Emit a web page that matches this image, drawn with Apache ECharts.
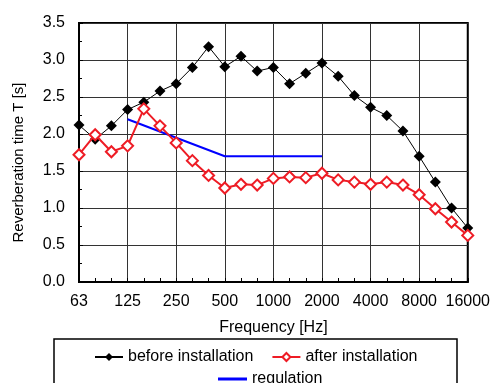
<!DOCTYPE html>
<html>
<head>
<meta charset="utf-8">
<script src="https://cdn.jsdelivr.net/npm/echarts@6/dist/echarts.min.js"></script>
<style>
  html, body { margin: 0; padding: 0; background: #fff; }
  #chart { width: 493px; height: 383px; }
</style>
</head>
<body>
<div id="chart"></div>
<script>
// 1/3 octave bands
const freqs = ["63", "80", "100", "125", "160", "200", "250", "315", "400", "500", "630", "800",
  "1000", "1250", "1600", "2000", "2500", "3150", "4000", "5000", "6300", "8000", "10000", "12500", "16000"];

const beforeVals = [2.12, 1.93, 2.11, 2.33, 2.43, 2.58, 2.68, 2.90, 3.18, 2.91, 3.05, 2.85,
  2.90, 2.68, 2.82, 2.96, 2.78, 2.52, 2.36, 2.25, 2.04, 1.70, 1.35, 1.00, 0.73];

const afterVals = [1.72, 1.99, 1.76, 1.84, 2.34, 2.11, 1.88, 1.64, 1.44, 1.27, 1.32, 1.31,
  1.40, 1.42, 1.41, 1.47, 1.38, 1.35, 1.32, 1.35, 1.31, 1.18, 0.99, 0.81, 0.63];

// regulation limit: only corner points, joined by the line
const regulationVals = [null, null, null, 2.2, null, null, null, null, null, 1.7, null, null,
  null, null, null, 1.7, null, null, null, null, null, null, null, null, null];

const font = "'Liberation Sans', Arial, sans-serif";

const chart = echarts.init(document.getElementById("chart"));
chart.setOption({
  animation: false,
  textStyle: { fontFamily: font },
  grid: {
    left: 79,
    right: 22,
    top: 23,
    bottom: 101,
    show: true,
    borderColor: "#000",
    borderWidth: 2,
  },
  graphic: [
    {
      type: "rect",
      z: 0,
      shape: { x: 54, y: 339, width: 403, height: 60 },
      style: { fill: "#fff", stroke: "#000", lineWidth: 1.5 },
    },
  ],
  legend: [
    {
      left: 89,
      top: 344,
      itemWidth: 28,
      itemHeight: 10,
      itemGap: 18,
      textStyle: { fontSize: 16, color: "#000", fontFamily: font },
      data: ["before installation", "after installation"],
    },
    {
      left: 213,
      top: 366,
      icon: "rect",
      itemWidth: 29,
      itemHeight: 3,
      textStyle: { fontSize: 16, color: "#000", fontFamily: font },
      data: ["regulation"],
    },
  ],
  xAxis: {
    type: "category",
    boundaryGap: false,
    data: freqs,
    name: "Frequency [Hz]",
    nameLocation: "middle",
    nameGap: 38,
    nameTextStyle: { fontSize: 16, color: "#000", fontFamily: font },
    axisLine: { lineStyle: { color: "#000", width: 2 } },
    axisTick: {
      show: true,
      inside: true,
      interval: 0,
      length: 4,
      lineStyle: { color: "#000" },
    },
    axisLabel: {
      interval: 2,
      margin: 12,
      fontSize: 16,
      color: "#000",
      fontFamily: font,
    },
    splitLine: {
      show: true,
      interval: 2,
      lineStyle: { color: "#333", width: 1 },
    },
  },
  yAxis: {
    type: "value",
    min: 0,
    max: 3.5,
    interval: 0.5,
    name: "Reverberation time T [s]",
    nameLocation: "middle",
    nameGap: 53,
    nameTextStyle: { fontSize: 15, color: "#000", fontFamily: font, padding: [0, 20, 0, 0] },
    axisLine: { show: true, lineStyle: { color: "#000", width: 2 } },
    axisTick: { show: true, inside: true, length: 4, lineStyle: { color: "#000" } },
    minorTick: { show: true, splitNumber: 2, length: 3, lineStyle: { color: "#000" } },
    axisLabel: {
      margin: 14,
      fontSize: 16,
      color: "#000",
      fontFamily: font,
      formatter: (val) => val.toFixed(1),
    },
    splitLine: { show: true, lineStyle: { color: "#333", width: 1 } },
  },
  series: [
    {
      name: "before installation",
      type: "line",
      data: beforeVals,
      symbol: "diamond",
      symbolSize: 11,
      showAllSymbol: true,
      color: "#000",
      lineStyle: { color: "#000", width: 1 },
      itemStyle: { color: "#000" },
      z: 3,
    },
    {
      name: "after installation",
      type: "line",
      data: afterVals,
      symbol: "emptyDiamond",
      symbolSize: 11,
      showAllSymbol: true,
      color: "#ee1c25",
      lineStyle: { color: "#ee1c25", width: 2 },
      itemStyle: { color: "#ee1c25", borderColor: "#ee1c25", borderWidth: 1.5 },
      z: 4,
    },
    {
      name: "regulation",
      type: "line",
      data: regulationVals,
      connectNulls: true,
      symbol: "none",
      color: "#0000ff",
      lineStyle: { color: "#0000ff", width: 2 },
      itemStyle: { color: "#0000ff" },
      z: 2,
    },
  ],
});
</script>
</body>
</html>
